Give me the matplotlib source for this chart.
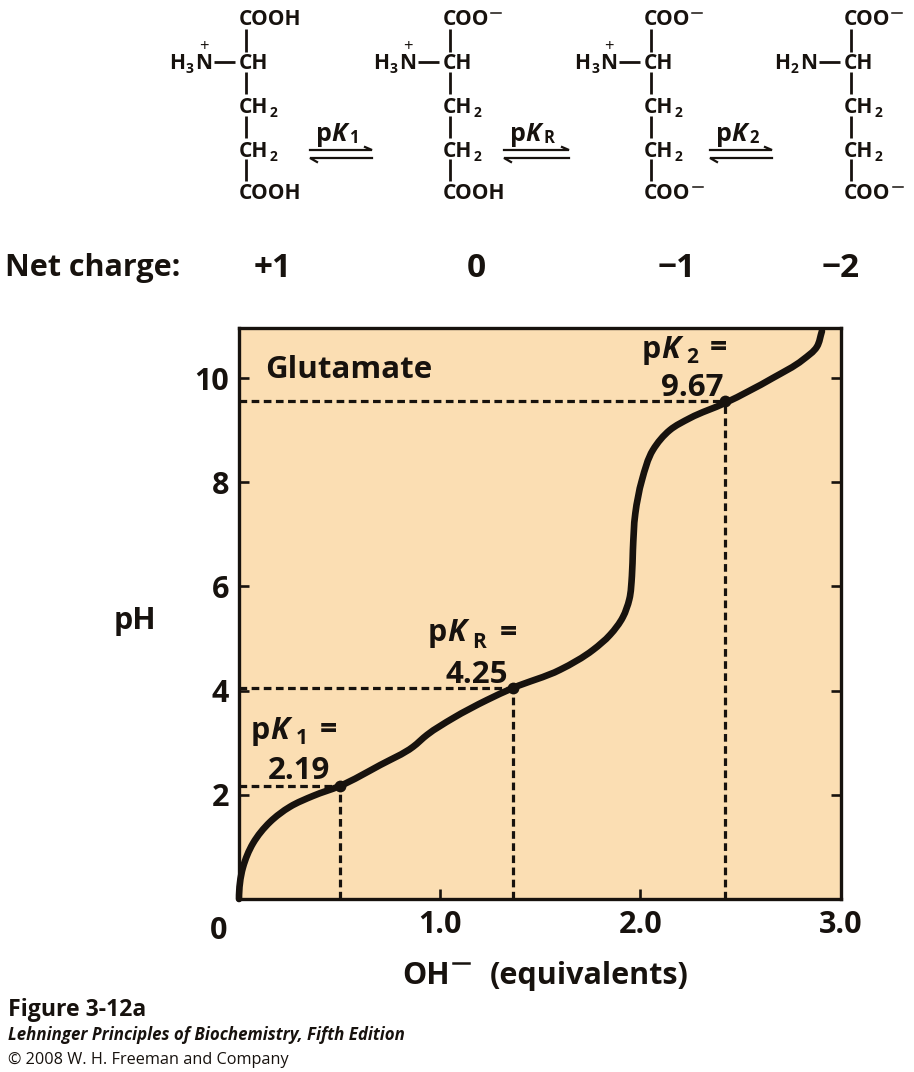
#!/usr/bin/env python3
"""Glutamate titration curve with the ionic forms drawn above it."""
import numpy as np
import matplotlib
matplotlib.use('Agg')
import matplotlib.pyplot as plt
from matplotlib.patches import PathPatch
from matplotlib.path import Path

plt.rcParams['font.family'] = ['Open Sans', 'DejaVu Sans']
plt.rcParams['font.weight'] = 'bold'

W, H = 914, 1072
INK = '#17120e'
PANEL = '#fbdeb3'

# titration curve
oh_equiv = [0.0, 0.02, 0.07, 0.155, 0.254, 0.37, 0.503, 0.703, 0.867, 0.937,
            1.066, 1.236, 1.365, 1.6, 1.764, 1.849, 1.913, 1.945, 1.958, 1.963, 1.975,
            2.008, 2.063, 2.147, 2.247, 2.422, 2.66, 2.81, 2.88, 2.905]
ph = [0.0, 0.61, 1.07, 1.48, 1.77, 1.98, 2.17, 2.57, 2.92, 3.15,
      3.47, 3.82, 4.05, 4.40, 4.78, 5.07, 5.41, 5.75, 6.2, 6.7, 7.4,
      8.04, 8.62, 9.0, 9.23, 9.52, 10.0, 10.35, 10.6, 10.9]

# pK points on the curve
pk_x = [0.503, 1.365, 2.422]
pk_y = [2.17, 4.05, 9.55]

x_ticks = [1.0, 2.0, 3.0]
x_labels = ['1.0', '2.0', '3.0']
y_ticks = [2, 4, 6, 8, 10]
y_labels = ['2', '4', '6', '8', '10']

charges = ['+1', '0', '\u22121', '\u22122']
charge_x = [273, 476, 677, 841]

fig = plt.figure(figsize=(W / 100, H / 100), dpi=100, facecolor='white')

# overlay in image pixels for the chemistry and captions
bg = fig.add_axes([0, 0, 1, 1])
bg.set_xlim(0, W)
bg.set_ylim(H, 0)
bg.axis('off')


def txt(x, y, s, size=15, ha='left', **kw):
    """y is the middle of the capitals, so mixed pieces share one baseline."""
    kw.setdefault('color', INK)
    bg.text(x, y + 0.357 * size * 100 / 72, s, fontsize=size, ha=ha, va='baseline', **kw)


def pk(x, y, sub, size, gap, sub_size, sub_dy):
    """p + italic K + subscript, placed piece by piece."""
    txt(x, y, 'p', size)
    txt(x + size * 0.86, y, 'K', size, style='italic')
    txt(x + size * 0.86 + gap, y + sub_dy, sub, sub_size)


def molecule(x, top_minus, bottom_minus, charged_n):
    left = x - 7
    for y0, y1 in [(29, 52), (72, 94), (116, 138), (159, 181)]:
        bg.plot([x, x], [y0, y1], color=INK, lw=2.0, solid_capstyle='butt')
    txt(left, 18, 'COO' if top_minus else 'COOH')
    if top_minus:
        bg.plot([left + 48, left + 58], [13, 13], color=INK, lw=1.1)
    txt(left, 62, 'CH')
    for y in (106, 150):
        txt(left, y, 'CH')
        txt(left + 31, y + 6, '2', 10)
    txt(left, 192, 'COO' if bottom_minus else 'COOH')
    if bottom_minus:
        bg.plot([left + 49, left + 59], [187, 187], color=INK, lw=1.1)
    bg.plot([x - 32, x - 11], [62, 62], color=INK, lw=2.0, solid_capstyle='butt')
    txt(x - 77, 62, 'H', 15)
    txt(x - 60, 68, '3' if charged_n else '2', 10)
    txt(x - 51, 62, 'N', 15)
    if charged_n:
        txt(x - 42, 45, '+', 12, ha='center', fontweight='normal')


def equilibrium(x0, x1):
    bg.plot([x0, x1, x1 - 7], [150, 150, 147], color=INK, lw=1.6, solid_joinstyle='miter')
    bg.plot([x1, x0, x0 + 7], [158, 158, 162], color=INK, lw=1.6, solid_joinstyle='miter')


def smooth_path(xs, ys, aspect):
    """Bezier path through the read points; tangents are taken in screen proportions."""
    pts = np.column_stack([xs, ys])
    scr = pts * [aspect, 1.0]
    seg = scr[1:] - scr[:-1]
    dist = np.linalg.norm(seg, axis=1, keepdims=True)
    tan = np.zeros_like(scr)
    # weigh the shorter neighbouring segment more, so uneven spacing gives no bumps
    tan[1:-1] = seg[:-1] / dist[:-1] * dist[1:] + seg[1:] / dist[1:] * dist[:-1]
    tan[0] = [0.0, 1.0]
    tan[-1] = seg[-1]
    tan /= np.linalg.norm(tan, axis=1, keepdims=True)
    verts, codes = [pts[0]], [Path.MOVETO]
    for i in range(len(pts) - 1):
        step = dist[i, 0] / 3
        verts.append((scr[i] + tan[i] * step) / [aspect, 1.0])
        verts.append((scr[i + 1] - tan[i + 1] * step) / [aspect, 1.0])
        verts.append(pts[i + 1])
        codes += [Path.CURVE4] * 3
    return Path(verts, codes)


for x, top, bottom, charged in [(246, False, False, True), (450, True, False, True),
                                (651, True, True, True), (851, True, True, False)]:
    molecule(x, top, bottom, charged)

for x0, x1, sub in [(310, 372, '1'), (504, 569, 'R'), (710, 772, '2')]:
    equilibrium(x0, x1)
    pk(x0 + 6, 132, sub, 18, 18, 12, 5)

txt(5, 265, 'Net charge:', 22)
for x, c in zip(charge_x, charges):
    txt(x, 265, c, 24, ha='center')

# main chart
ax = fig.add_axes([239 / W, 1 - 899 / H, (841 - 239) / W, (899 - 328) / H], facecolor=PANEL)
ax.set_xlim(0, 3.0)
ax.set_ylim(0, 10.96)
for side in ax.spines.values():
    side.set_linewidth(2.4)
    side.set_color(INK)
ax.set_xticks(x_ticks, x_labels, fontsize=22)
ax.set_yticks(y_ticks, y_labels, fontsize=22)
ax.tick_params(axis='x', direction='in', length=7, width=1.9, color=INK, pad=8, labelcolor=INK)
ax.tick_params(axis='y', direction='in', length=7, width=1.9, color=INK, pad=7,
               labelcolor=INK, right=True)

for x, y in zip(pk_x, pk_y):
    ax.plot([0, x], [y, y], color=INK, lw=2.3, ls=(0, (2.4, 1.4)))
    ax.plot([x, x], [0, y], color=INK, lw=2.3, ls=(0, (2.4, 1.4)))
curve = smooth_path(oh_equiv, ph, 200.7 / 52.1)
ax.add_patch(PathPatch(curve, fc='none', ec=INK, lw=4.8, capstyle='round',
                       joinstyle='round', clip_on=False))
ax.plot(pk_x, pk_y, 'o', color=INK, ms=8.5, mew=0)

txt(265, 367, 'Glutamate', 22.5)
pk(251, 728, '1', 22, 26, 15, 9)
txt(320, 727, '=', 22)
txt(268, 768, '2.19', 22.5)
pk(428, 630, 'R', 22, 25, 15, 11)
txt(500, 630, '=', 22)
txt(445, 672, '4.25', 22.5)
pk(642, 347, '2', 22, 25, 15, 9)
txt(710, 345, '=', 22)
txt(661, 385, '9.67', 22.5)

txt(219, 928, '0', 22, ha='center')
txt(135, 618, 'pH', 22, ha='center')
txt(402, 973, 'OH', 22)
bg.plot([453, 469], [963, 963], color=INK, lw=1.8)
txt(490, 973, '(equivalents)', 22)

txt(8, 1008, 'Figure 3-12a', 16.6)
txt(8, 1034, 'Lehninger Principles of Biochemistry, Fifth Edition', 12.2, style='italic')
txt(8, 1058, '\u00a9 2008 W. H. Freeman and Company', 11.7, fontweight='normal')

bg.set_zorder(3)
fig.savefig('out.png', dpi=100)
